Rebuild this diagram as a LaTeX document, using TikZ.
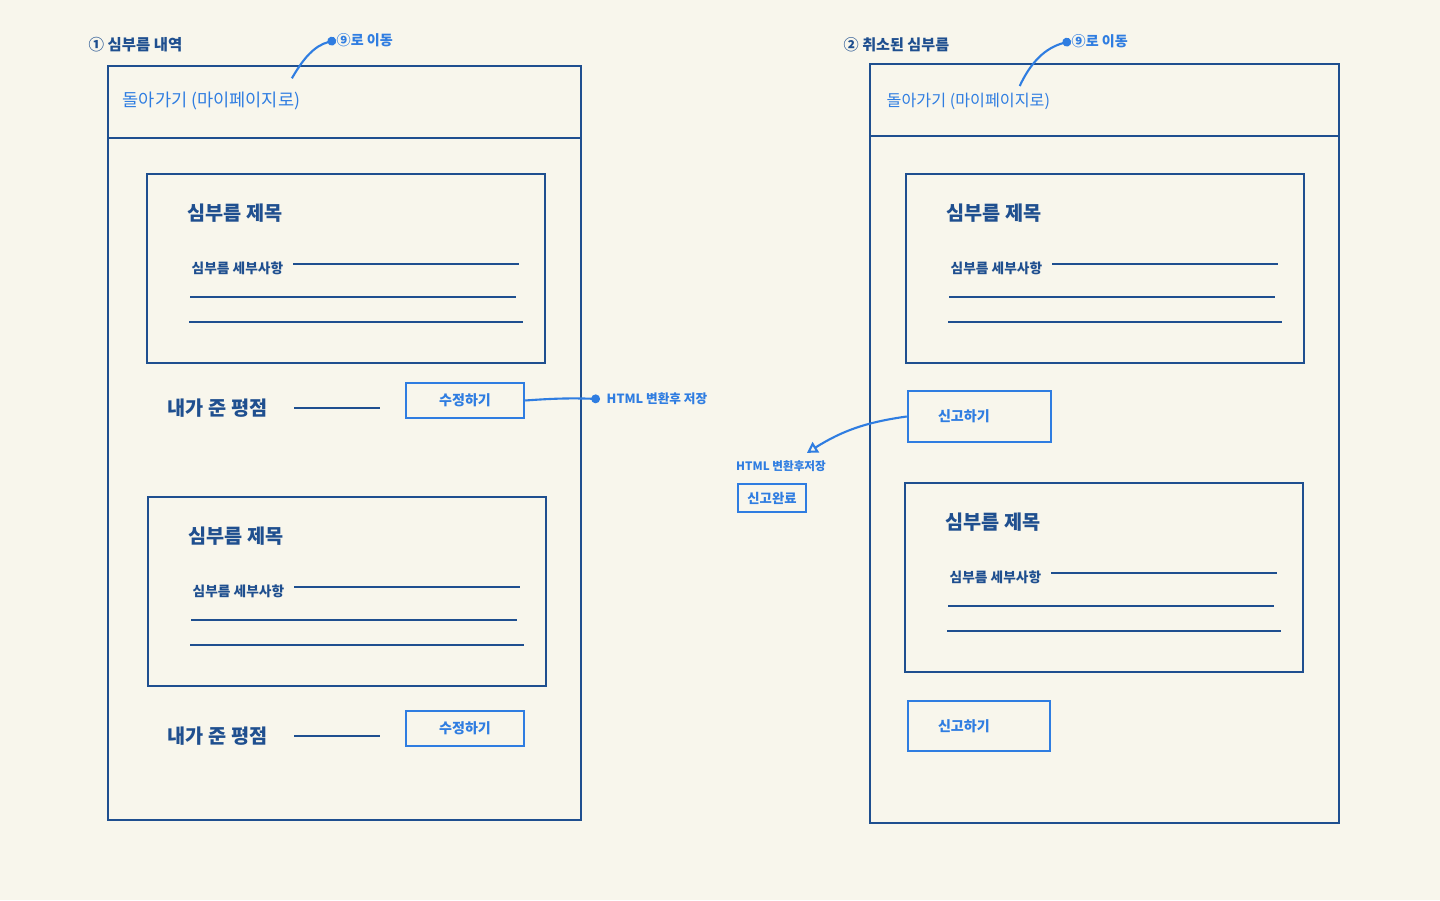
\documentclass[tikz,border=0pt]{standalone}
\usepackage{fontspec}
\setmainfont{Noto Sans CJK KR}
\usetikzlibrary{arrows.meta,positioning}
\definecolor{paper}{HTML}{F8F6EC}
\definecolor{ink}{HTML}{1F4F8F}
\definecolor{pen}{HTML}{2F7DE1}

\begin{document}
\begin{tikzpicture}[
        panel/.style={draw=ink, line width=0.75pt},
        card/.style={draw=ink, line width=0.7pt},
        rule/.style={draw=ink, line width=0.55pt},
        btn/.style={draw=pen, line width=0.7pt, text=pen, font=\fontsize{4}{5}\selectfont\bfseries, inner sep=0pt},
        lbl/.style={text=ink, inner sep=0pt, anchor=west},
        note/.style={text=pen, inner sep=0pt, anchor=west},
        link/.style={draw=pen, line width=0.6pt},
    ]
    \fill[paper] (0,0) rectangle (14.4,9);
    \useasboundingbox (0,0) rectangle (14.4,9);

    % two screens
    \draw[panel] (1.08,0.80) rectangle (5.81,8.34);
    \draw[panel] (1.08,7.62) -- (5.81,7.62);
    \draw[panel] (8.70,0.77) rectangle (13.39,8.36);
    \draw[panel] (8.70,7.64) -- (13.39,7.64);

    % headings
    \node[lbl, font=\fontsize{4.4}{5}\selectfont\bfseries] (head-a) at (0.88,8.55) {① 심부름 내역};
    \node[lbl, font=\fontsize{4.3}{5}\selectfont\bfseries] (head-b) at (8.43,8.55) {② 취소된 심부름};
    \node[note, font=\fontsize{5}{6}\selectfont] (back-a) at (1.22,7.99) {돌아가기 (마이페이지로)};
    \node[note, font=\fontsize{4.6}{6}\selectfont] (back-b) at (8.86,7.99) {돌아가기 (마이페이지로)};
    \node[note, font=\fontsize{4}{5}\selectfont\bfseries] (goto-a) at (3.36,8.60) {⑨로 이동};
    \node[note, font=\fontsize{4}{5}\selectfont\bfseries] (goto-b) at (10.71,8.59) {⑨로 이동};
    \draw[link, -{Circle[length=2.5pt]}] ([xshift=-0.09cm,yshift=0.13cm]back-a.north east)
        to[out=60,in=195] (goto-a.west);
    \draw[link, -{Circle[length=2.5pt]}] ([xshift=-0.31cm,yshift=0.06cm]back-b.north east)
        to[out=65,in=195] (goto-b.west);

    % errand cards
    \foreach \cx/\cy/\n in {1.47/7.26/a, 1.48/4.03/b, 9.06/7.26/c, 9.05/4.17/d} {
        \draw[card] (\cx,\cy) rectangle ++(3.98,-1.89);
        \node[lbl, font=\fontsize{5.6}{6}\selectfont\bfseries] (title-\n) at (\cx+0.40,\cy-0.39) {심부름 제목};
        \node[lbl, font=\fontsize{3.9}{5}\selectfont\bfseries] (detail-\n) at (\cx+0.44,\cy-0.94) {심부름 세부사항};
        \draw[rule] (\cx+1.46,\cy-0.90) -- (\cx+3.72,\cy-0.90);
        \draw[rule] (\cx+0.43,\cy-1.23) -- (\cx+3.69,\cy-1.23);
        \draw[rule] (\cx+0.42,\cy-1.48) -- (\cx+3.76,\cy-1.48);
    }

    % my rating + edit
    \foreach \ry/\n in {4.92/a, 1.64/b} {
        \node[lbl, font=\fontsize{5.6}{6}\selectfont\bfseries] (score-\n) at (1.67,\ry) {내가 준 평점};
        \draw[rule] (2.94,\ry) -- (3.80,\ry);
        \node[btn, minimum width=1.18cm, minimum height=0.35cm] (edit-\n) at (4.65,\ry+0.075) {수정하기};
    }
    \node[note, font=\fontsize{3.6}{4}\selectfont\bfseries] (save-a) at (6.06,5.01) {HTML 변환후 저장};
    \draw[link, -{Circle[length=2.5pt]}] (edit-a.east) to[bend left=3] ([xshift=-0.06cm]save-a.west);

    % report buttons
    \node[btn, text width=0.83cm, inner xsep=0.3cm, align=left, minimum height=0.51cm] (report-c) at (9.795,4.835) {신고하기};
    \node[btn, text width=0.82cm, inner xsep=0.3cm, align=left, minimum height=0.50cm] (report-d) at (9.79,1.74) {신고하기};
    \node[note, anchor=center, font=\fontsize{3.3}{4}\selectfont\bfseries] (save-c) at (7.81,4.34) {HTML 변환후저장};
    \node[btn, font=\fontsize{3.8}{4}\selectfont\bfseries, minimum width=0.68cm, minimum height=0.28cm] (done-c) at (7.72,4.02) {신고완료};
    \draw[link, -{Triangle[open, length=3pt, width=3.5pt]}] (report-c.west)
        to[bend right=12] ([xshift=0.26cm,yshift=0.07cm]save-c.north);
\end{tikzpicture}
\end{document}
